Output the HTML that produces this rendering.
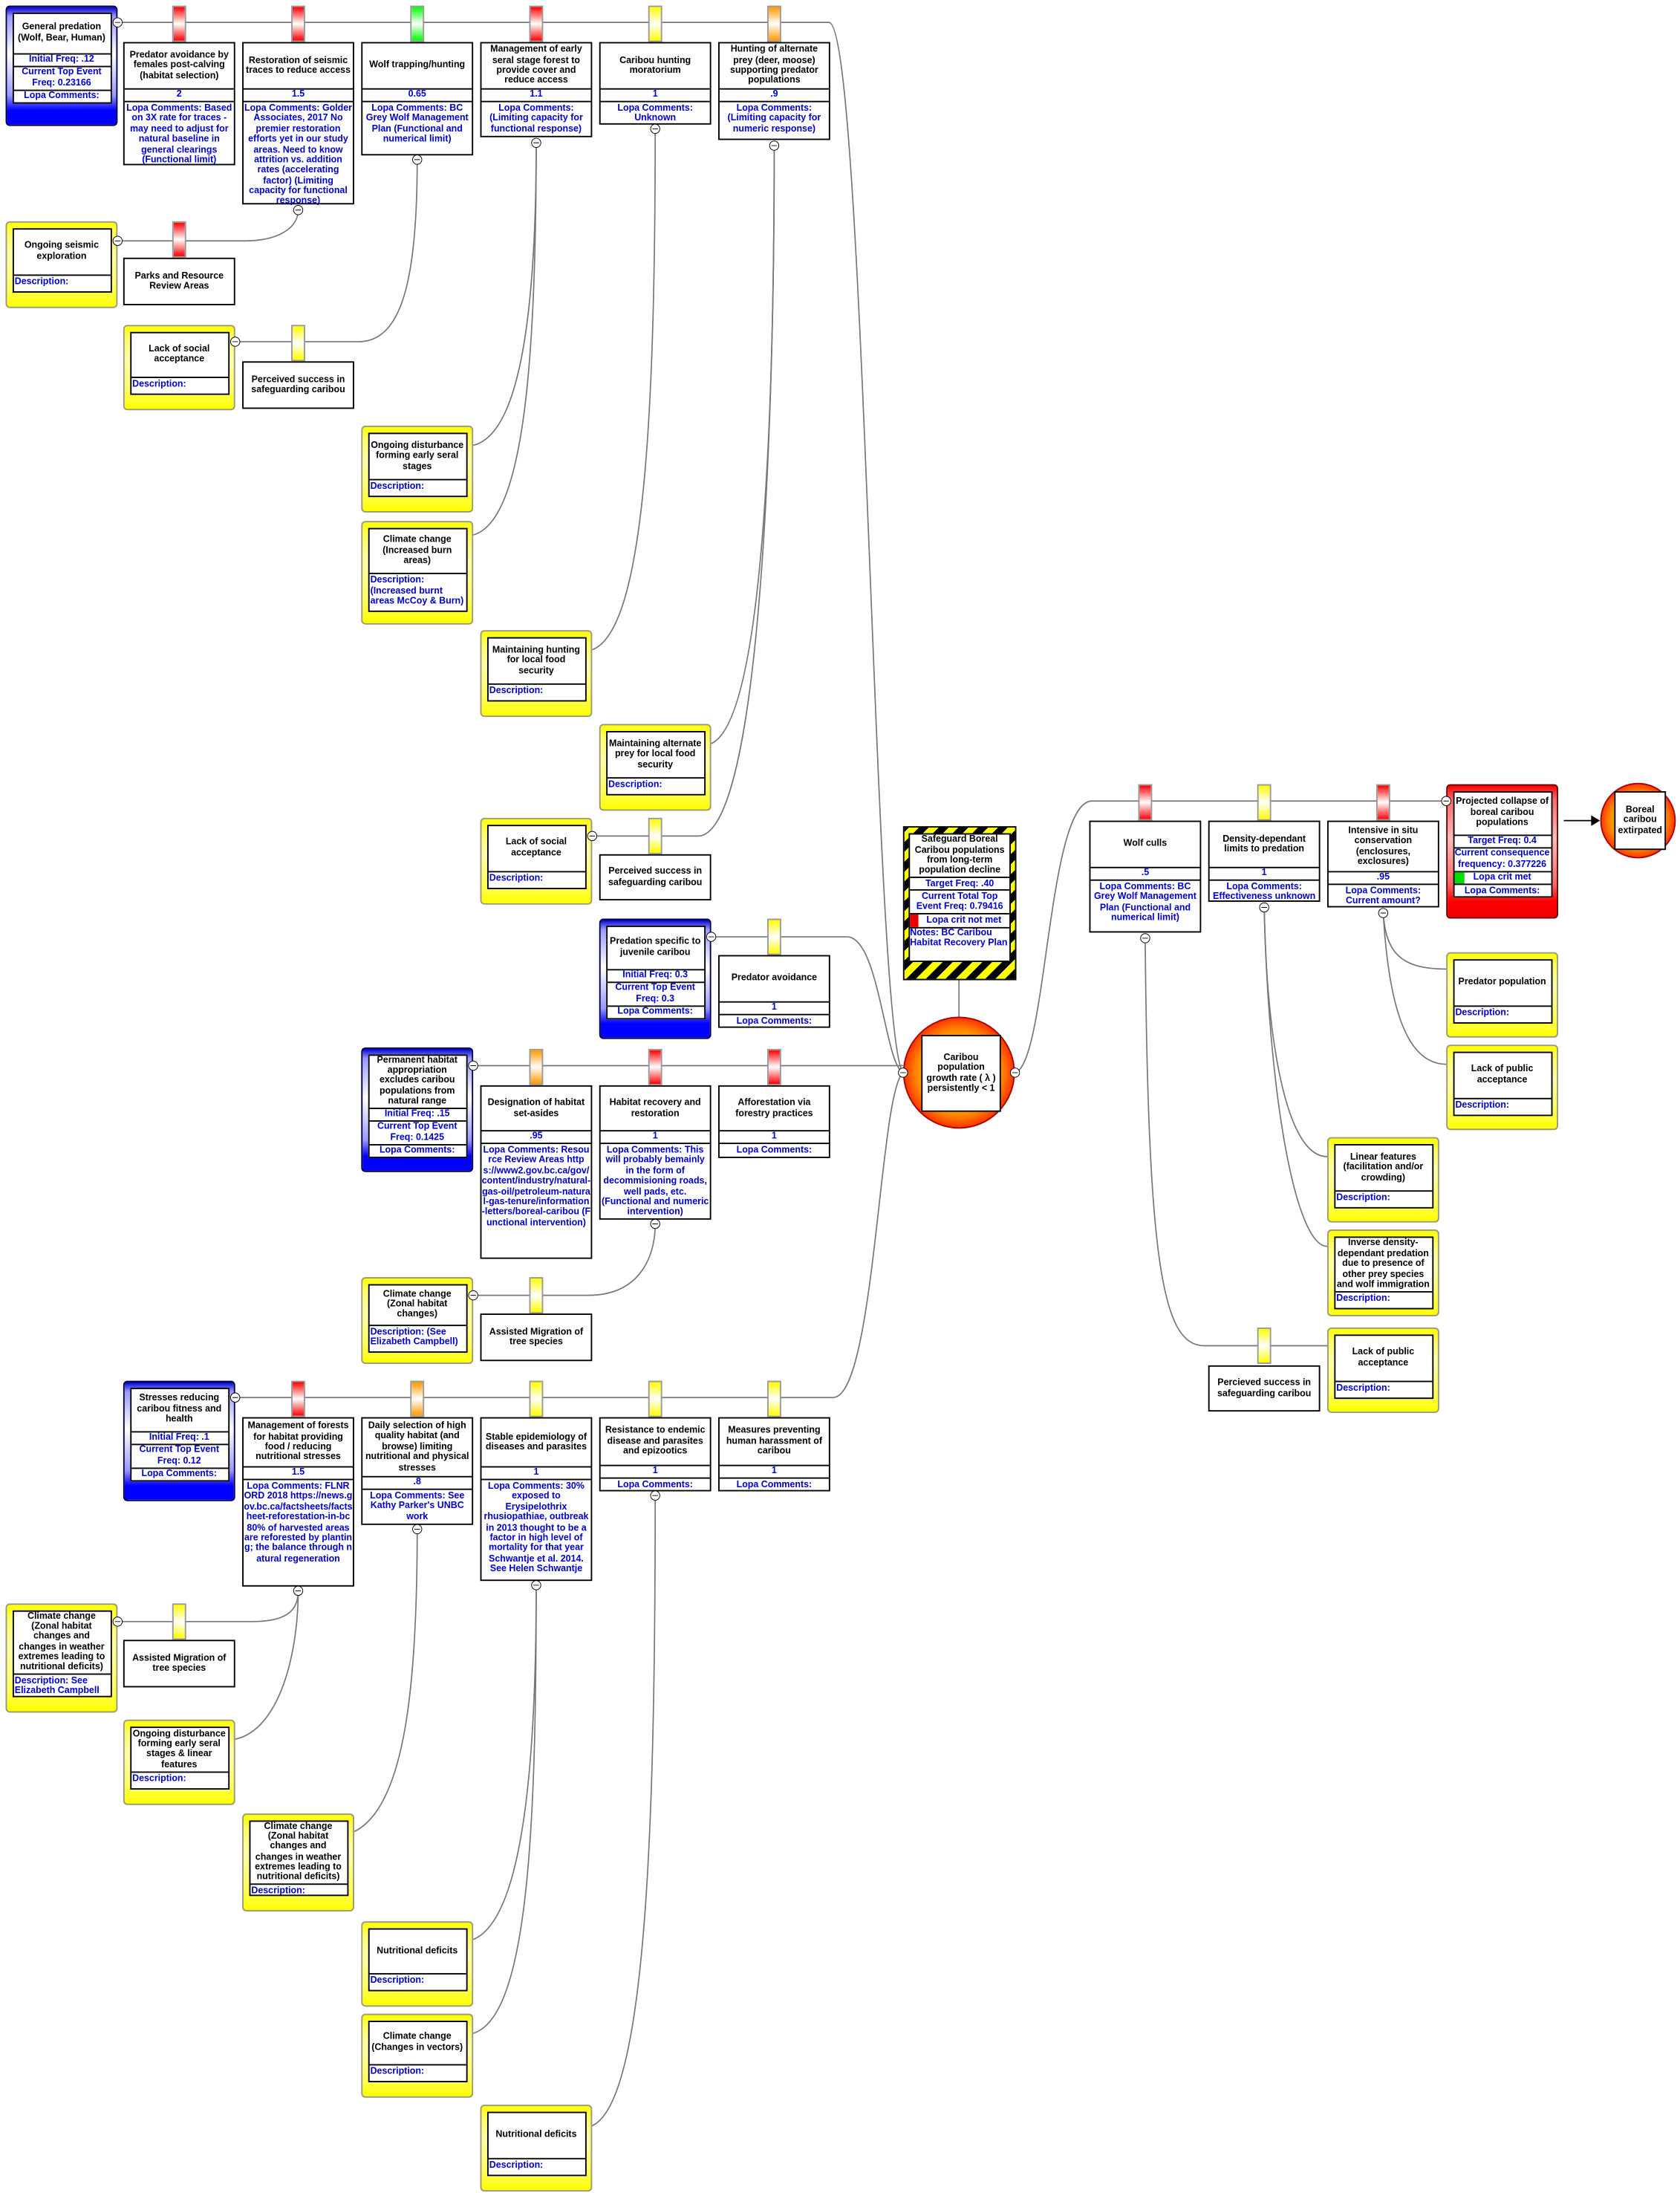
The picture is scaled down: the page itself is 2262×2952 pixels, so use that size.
<!DOCTYPE html>
<html><head><meta charset="utf-8"><style>
html,body{margin:0;padding:0;background:#fff;width:2262px;height:2952px;overflow:hidden}
#w{position:absolute;left:0;top:0;width:1200px;height:1566px;transform:scale(1.885);transform-origin:0 0;font-family:"Liberation Sans",Tahoma,sans-serif;font-weight:bold;font-size:6.6px;line-height:1.12}
svg{position:absolute;left:0;top:0}
.b{position:absolute;border:0.5px solid #000;background:#fff;box-sizing:border-box;display:flex;flex-direction:column}
.t{flex:none;display:flex;align-items:center;justify-content:center;text-align:center;color:#000;padding:0 1px}
.v{flex:none;height:8px;border-top:0.5px solid #000;border-bottom:0.5px solid #000;color:#00c;text-align:center;line-height:8px}
.c{flex:1;color:#00c;text-align:center;padding-top:1px}
.tab{position:absolute;width:10px;height:26px;box-sizing:border-box;border:0.5px solid #999}
.r{background:linear-gradient(#f00,#fff 50%,#f00)}
.y{background:linear-gradient(#ff0,#fff 50%,#ff0)}
.g{background:linear-gradient(#0f0,#fff 50%,#0f0)}
.o{background:linear-gradient(#f90,#fff 50%,#f90)}
.ty{position:absolute;box-sizing:border-box;border:0.6px solid #997;border-radius:3px;background:linear-gradient(#ff0,#ff6 15%,#ffa 40%,#ff6 75%,#ff0)}
.tb{position:absolute;box-sizing:border-box;border:0.6px solid #004;border-radius:3px;background:linear-gradient(#00c,#99f 8%,#fff 40%,#99f 75%,#00f 88%,#00f)}
.tr{position:absolute;box-sizing:border-box;border:0.6px solid #600;border-radius:3px;background:linear-gradient(#f00,#f66 10%,#fbb 40%,#f66 75%,#f00 88%,#e00)}
.in{position:absolute;left:3.5px;right:3.5px;top:3.5px;background:#fff;border:0.5px solid #000;display:flex;flex-direction:column}
.in .t{flex:1}
.d{flex:none;border-top:0.5px solid #000;color:#00c;padding:1px 1px 2px;text-align:left}
.rw{flex:none;border-top:0.5px solid #000;color:#00c;text-align:center;padding:0.5px 0}
</style></head><body><div id="w">
<svg width="1200" height="1566" viewBox="0 0 1200 1566" fill="none" stroke="#777" stroke-width="0.9">
<path d="M84,16 H592 C618,16 624,740 645,766"/>
<path d="M508,669 H605 C628,669 632,760 645,766"/>
<path d="M338,761 H645"/>
<path d="M168,998 H595 C625,998 628,780 645,766"/>
<path d="M725,766 C748,760 748,572 780,572 H1033"/>
<path d="M84,172 H175 C200,172 213,162 213,150"/>
<path d="M168,244 H256 C287,244 298,200 298,114"/>
<path d="M338,318 C372,310 383,220 383,102"/>
<path d="M338,382 C374,372 383,260 383,102"/>
<path d="M423,464 C460,450 468,300 468,92"/>
<path d="M508,531 C545,515 553,300 553,104"/>
<path d="M423,597 H500 C542,590 553,320 553,104"/>
<path d="M338,925 H420 C455,925 468,900 468,874"/>
<path d="M84,1158 H180 C205,1158 213,1150 213,1136"/>
<path d="M168,1242 C200,1235 213,1180 213,1136"/>
<path d="M253,1308 C290,1290 298,1200 298,1092"/>
<path d="M338,1385 C375,1370 383,1250 383,1132"/>
<path d="M338,1452 C378,1440 383,1300 383,1132"/>
<path d="M423,1518 C462,1500 468,1300 468,1068"/>
<path d="M988,652 C990,680 1000,692 1033,692"/>
<path d="M988,652 C992,720 1005,760 1033,760"/>
<path d="M903,648 C905,750 920,826 948,826"/>
<path d="M903,648 C906,780 925,890 948,890"/>
<path d="M818,670 C820,900 830,961 860,961 H948"/>
<path d="M685,700 V726"/>
<path d="M1117,586 H1138" stroke="#000"/>
<path d="M1137,583 L1142,586 L1137,589 Z" fill="#000" stroke="#000"/>
</svg>

<div class="tab r" style="left:123px;top:4px"></div>
<div class="tab r" style="left:208px;top:4px"></div>
<div class="tab g" style="left:293px;top:4px"></div>
<div class="tab r" style="left:378px;top:4px"></div>
<div class="tab y" style="left:463px;top:4px"></div>
<div class="tab o" style="left:548px;top:4px"></div>
<div class="tab r" style="left:123px;top:158px"></div>
<div class="tab y" style="left:208px;top:232px"></div>
<div class="tab y" style="left:463px;top:584px"></div>
<div class="tab y" style="left:548px;top:656px"></div>
<div class="tab o" style="left:378px;top:749px"></div>
<div class="tab r" style="left:463px;top:749px"></div>
<div class="tab r" style="left:548px;top:749px"></div>
<div class="tab y" style="left:378px;top:912px"></div>
<div class="tab r" style="left:208px;top:986px"></div>
<div class="tab o" style="left:293px;top:986px"></div>
<div class="tab y" style="left:378px;top:986px"></div>
<div class="tab y" style="left:463px;top:986px"></div>
<div class="tab y" style="left:548px;top:986px"></div>
<div class="tab y" style="left:123px;top:1145px"></div>
<div class="tab r" style="left:813px;top:560px"></div>
<div class="tab y" style="left:898px;top:560px"></div>
<div class="tab r" style="left:983px;top:560px"></div>
<div class="tab y" style="left:898px;top:948px"></div>

<div class="b" style="left:88px;top:30px;width:80px;height:88px"><div class="t" style="height:32px">Predator avoidance by females post-calving (habitat selection)</div><div class="v">2</div><div class="c">Lopa Comments: Based on 3X rate for traces - may need to adjust for natural baseline in general clearings (Functional limit)</div></div>
<div class="b" style="left:173px;top:30px;width:80px;height:116px"><div class="t" style="height:32px">Restoration of seismic traces to reduce access</div><div class="v">1.5</div><div class="c">Lopa Comments: Golder Associates, 2017 No premier restoration efforts yet in our study areas. Need to know attrition vs. addition rates (accelerating factor) (Limiting capacity for functional response)</div></div>
<div class="b" style="left:258px;top:30px;width:80px;height:81px"><div class="t" style="height:32px">Wolf trapping/hunting</div><div class="v">0.65</div><div class="c">Lopa Comments: BC Grey Wolf Management Plan (Functional and numerical limit)</div></div>
<div class="b" style="left:343px;top:30px;width:80px;height:68px"><div class="t" style="height:32px">Management of early seral stage forest to provide cover and reduce access</div><div class="v">1.1</div><div class="c">Lopa Comments: (Limiting capacity for functional response)</div></div>
<div class="b" style="left:428px;top:30px;width:80px;height:59px"><div class="t" style="height:32px">Caribou hunting moratorium</div><div class="v">1</div><div class="c">Lopa Comments: Unknown</div></div>
<div class="b" style="left:513px;top:30px;width:80px;height:70px"><div class="t" style="height:32px">Hunting of alternate prey (deer, moose) supporting predator populations</div><div class="v">.9</div><div class="c">Lopa Comments: (Limiting capacity for numeric response)</div></div>

<div class="b" style="left:88px;top:184px;width:80px;height:34px"><div class="t" style="flex:1">Parks and Resource Review Areas</div></div>
<div class="b" style="left:173px;top:258px;width:80px;height:34px"><div class="t" style="flex:1">Perceived success in safeguarding caribou</div></div>
<div class="b" style="left:428px;top:610px;width:80px;height:33px"><div class="t" style="flex:1">Perceived success in safeguarding caribou</div></div>
<div class="b" style="left:513px;top:682px;width:80px;height:52px"><div class="t" style="height:32px">Predator avoidance</div><div class="v">1</div><div class="c">Lopa Comments:</div></div>

<div class="b" style="left:343px;top:775px;width:80px;height:124px"><div class="t" style="height:31px">Designation of habitat set-asides</div><div class="v">.95</div><div class="c" style="word-break:break-all">Lopa Comments: Resource Review Areas https://www2.gov.bc.ca/gov/content/industry/natural-gas-oil/petroleum-natural-gas-tenure/information-letters/boreal-caribou (Functional intervention)</div></div>
<div class="b" style="left:428px;top:775px;width:80px;height:96px"><div class="t" style="height:31px">Habitat recovery and restoration</div><div class="v">1</div><div class="c">Lopa Comments: This will probably bemainly in the form of decommisioning roads, well pads, etc. (Functional and numeric intervention)</div></div>
<div class="b" style="left:513px;top:775px;width:80px;height:52px"><div class="t" style="height:31px">Afforestation via forestry practices</div><div class="v">1</div><div class="c">Lopa Comments:</div></div>
<div class="b" style="left:343px;top:938px;width:80px;height:34px"><div class="t" style="flex:1">Assisted Migration of tree species</div></div>

<div class="b" style="left:173px;top:1012px;width:80px;height:121px"><div class="t" style="height:34px">Management of forests for habitat providing food / reducing nutritional stresses</div><div class="v">1.5</div><div class="c" style="word-break:break-all">Lopa Comments: FLNRORD 2018 https://news.gov.bc.ca/factsheets/factsheet-reforestation-in-bc 80% of harvested areas are reforested by planting; the balance through natural regeneration</div></div>
<div class="b" style="left:258px;top:1012px;width:80px;height:77px"><div class="t" style="height:41px">Daily selection of high quality habitat (and browse) limiting nutritional and physical stresses</div><div class="v">.8</div><div class="c">Lopa Comments: See Kathy Parker's UNBC work</div></div>
<div class="b" style="left:343px;top:1012px;width:80px;height:117px"><div class="t" style="height:34px">Stable epidemiology of diseases and parasites</div><div class="v">1</div><div class="c">Lopa Comments: 30% exposed to Erysipelothrix rhusiopathiae, outbreak in 2013 thought to be a factor in high level of mortality for that year Schwantje et al. 2014. See Helen Schwantje</div></div>
<div class="b" style="left:428px;top:1012px;width:80px;height:53px"><div class="t" style="height:33px">Resistance to endemic disease and parasites and epizootics</div><div class="v">1</div><div class="c">Lopa Comments:</div></div>
<div class="b" style="left:513px;top:1012px;width:80px;height:53px"><div class="t" style="height:33px">Measures preventing human harassment of caribou</div><div class="v">1</div><div class="c">Lopa Comments:</div></div>
<div class="b" style="left:88px;top:1171px;width:80px;height:34px"><div class="t" style="flex:1">Assisted Migration of tree species</div></div>

<div class="b" style="left:778px;top:586px;width:80px;height:80px"><div class="t" style="height:32px">Wolf culls</div><div class="v">.5</div><div class="c">Lopa Comments: BC Grey Wolf Management Plan (Functional and numerical limit)</div></div>
<div class="b" style="left:863px;top:586px;width:80px;height:58px"><div class="t" style="height:32px">Density-dependant limits to predation</div><div class="v">1</div><div class="c">Lopa Comments: Effectiveness unknown</div></div>
<div class="b" style="left:948px;top:586px;width:80px;height:62px"><div class="t" style="height:35px">Intensive in situ conservation (enclosures, exclosures)</div><div class="v">.95</div><div class="c">Lopa Comments: Current amount?</div></div>
<div class="b" style="left:863px;top:975px;width:80px;height:33px"><div class="t" style="flex:1">Percieved success in safeguarding caribou</div></div>

<div class="tb" style="left:4px;top:4px;width:80px;height:86px"><div class="in"><div class="t" style="height:28px;flex:none">General predation (Wolf, Bear, Human)</div><div class="rw">Initial Freq: .12</div><div class="rw">Current Top Event Freq: 0.23166</div><div class="rw">Lopa Comments:</div></div></div>
<div class="tb" style="left:428px;top:656px;width:80px;height:86px"><div class="in"><div class="t" style="height:30px;flex:none">Predation specific to juvenile caribou</div><div class="rw">Initial Freq: 0.3</div><div class="rw">Current Top Event Freq: 0.3</div><div class="rw">Lopa Comments:</div></div></div>
<div class="tb" style="left:258px;top:748px;width:80px;height:89px"><div class="in"><div class="t" style="height:37px;flex:none">Permanent habitat appropriation excludes caribou populations from natural range</div><div class="rw">Initial Freq: .15</div><div class="rw">Current Top Event Freq: 0.1425</div><div class="rw">Lopa Comments:</div></div></div>
<div class="tb" style="left:88px;top:986px;width:80px;height:86px"><div class="in"><div class="t" style="height:30px;flex:none">Stresses reducing caribou fitness and health</div><div class="rw">Initial Freq: .1</div><div class="rw">Current Top Event Freq: 0.12</div><div class="rw">Lopa Comments:</div></div></div>

<div class="ty" style="left:4px;top:158px;width:80px;height:62px"><div class="in" style="height:44px"><div class="t">Ongoing seismic exploration</div><div class="d">Description:</div></div></div>
<div class="ty" style="left:88px;top:232px;width:80px;height:61px"><div class="in" style="height:43px"><div class="t">Lack of social acceptance</div><div class="d">Description:</div></div></div>
<div class="ty" style="left:258px;top:304px;width:80px;height:62px"><div class="in" style="height:44px"><div class="t">Ongoing disturbance forming early seral stages</div><div class="d">Description:</div></div></div>
<div class="ty" style="left:258px;top:372px;width:80px;height:74px"><div class="in" style="height:58px"><div class="t">Climate change (Increased burn areas)</div><div class="d">Description: (Increased burnt areas McCoy &amp; Burn)</div></div></div>
<div class="ty" style="left:343px;top:450px;width:80px;height:62px"><div class="in" style="height:44px"><div class="t">Maintaining hunting for local food security</div><div class="d">Description:</div></div></div>
<div class="ty" style="left:428px;top:517px;width:80px;height:62px"><div class="in" style="height:44px"><div class="t">Maintaining alternate prey for local food security</div><div class="d">Description:</div></div></div>
<div class="ty" style="left:343px;top:584px;width:80px;height:62px"><div class="in" style="height:44px"><div class="t">Lack of social acceptance</div><div class="d">Description:</div></div></div>
<div class="ty" style="left:258px;top:912px;width:80px;height:62px"><div class="in" style="height:47px"><div class="t">Climate change (Zonal habitat changes)</div><div class="d">Description: (See Elizabeth Campbell)</div></div></div>
<div class="ty" style="left:4px;top:1145px;width:80px;height:78px"><div class="in" style="height:60px"><div class="t">Climate change (Zonal habitat changes and changes in weather extremes leading to nutritional deficits)</div><div class="d">Description: See Elizabeth Campbell</div></div></div>
<div class="ty" style="left:88px;top:1228px;width:80px;height:61px"><div class="in" style="height:43px"><div class="t">Ongoing disturbance forming early seral stages &amp; linear features</div><div class="d">Description:</div></div></div>
<div class="ty" style="left:173px;top:1295px;width:80px;height:70px"><div class="in" style="height:52px"><div class="t">Climate change (Zonal habitat changes and changes in weather extremes leading to nutritional deficits)</div><div class="d">Description:</div></div></div>
<div class="ty" style="left:258px;top:1372px;width:80px;height:61px"><div class="in" style="height:43px"><div class="t">Nutritional deficits</div><div class="d">Description:</div></div></div>
<div class="ty" style="left:258px;top:1438px;width:80px;height:60px"><div class="in" style="height:42px"><div class="t">Climate change (Changes in vectors)</div><div class="d">Description:</div></div></div>
<div class="ty" style="left:343px;top:1503px;width:80px;height:62px"><div class="in" style="height:44px"><div class="t">Nutritional deficits</div><div class="d">Description:</div></div></div>
<div class="ty" style="left:1033px;top:680px;width:80px;height:61px"><div class="in" style="height:44px"><div class="t">Predator population</div><div class="d">Description:</div></div></div>
<div class="ty" style="left:1033px;top:746px;width:80px;height:61px"><div class="in" style="height:44px"><div class="t">Lack of public acceptance</div><div class="d">Description:</div></div></div>
<div class="ty" style="left:948px;top:812px;width:80px;height:61px"><div class="in" style="height:44px"><div class="t">Linear features (facilitation and/or crowding)</div><div class="d">Description:</div></div></div>
<div class="ty" style="left:948px;top:878px;width:80px;height:62px"><div class="in" style="height:50px"><div class="t">Inverse density-dependant predation due to presence of other prey species and wolf immigration</div><div class="d">Description:</div></div></div>
<div class="ty" style="left:948px;top:948px;width:80px;height:61px"><div class="in" style="height:44px"><div class="t">Lack of public acceptance</div><div class="d">Description:</div></div></div>

<div class="tr" style="left:1033px;top:560px;width:80px;height:96px"><div class="in"><div class="t" style="height:30px;flex:none">Projected collapse of boreal caribou populations</div><div class="rw">Target Freq: 0.4</div><div class="rw">Current consequence frequency: 0.377226</div><div class="rw" style="position:relative"><span style="position:absolute;left:0;top:0;bottom:0;width:7px;background:#0d0"></span>Lopa crit met</div><div class="rw">Lopa Comments:</div></div></div>
<div style="position:absolute;left:1143px;top:559px;width:54px;height:54px;border-radius:50%;box-sizing:border-box;border:0.6px solid #a00;background:radial-gradient(circle,#ffd000 25%,#ff8a00 55%,#ff1000 80%)"></div>
<div class="b" style="left:1153px;top:565px;width:37px;height:42px"><div class="t" style="flex:1">Boreal caribou extirpated</div></div>

<div style="position:absolute;left:645px;top:590px;width:81px;height:110px;box-sizing:border-box;border:1px solid #000;background:repeating-linear-gradient(-45deg,#000 0 5px,#ff0 5px 10px)">
<div style="position:absolute;left:3px;right:3px;top:4px;height:90px;background:#fff;border:0.5px solid #000;display:flex;flex-direction:column">
<div class="t" style="height:30px">Safeguard Boreal Caribou populations from long-term population decline</div>
<div class="rw">Target Freq: .40</div><div class="rw">Current Total Top Event Freq: 0.79416</div>
<div class="rw" style="position:relative;padding-left:6px"><span style="position:absolute;left:0;top:0;bottom:0;width:6px;background:#e00"></span>Lopa crit not met</div>
<div class="rw" style="text-align:left;flex:1">Notes: BC Caribou Habitat Recovery Plan</div></div></div>

<div style="position:absolute;left:645px;top:726px;width:80px;height:80px;border-radius:50%;box-sizing:border-box;border:0.6px solid #a00;background:radial-gradient(circle,#ffd000 25%,#ff8a00 55%,#ff1000 78%)"></div>
<div class="b" style="left:658px;top:739px;width:57px;height:55px"><div class="t" style="flex:1">Caribou population growth rate ( λ ) persistently &lt; 1</div></div>

<svg width="1200" height="1566" viewBox="0 0 1200 1566" stroke="#000" stroke-width="0.5" fill="#fff">
<g>
<circle cx="84" cy="16" r="3.3"/><circle cx="84" cy="172" r="3.3"/><circle cx="168" cy="244" r="3.3"/><circle cx="423" cy="597" r="3.3"/><circle cx="508" cy="669" r="3.3"/><circle cx="338" cy="761" r="3.3"/><circle cx="338" cy="925" r="3.3"/><circle cx="168" cy="998" r="3.3"/><circle cx="84" cy="1158" r="3.3"/><circle cx="645" cy="766" r="3.3"/><circle cx="725" cy="766" r="3.3"/><circle cx="1033" cy="572" r="3.3"/>
<circle cx="213" cy="150" r="3.3"/><circle cx="298" cy="114" r="3.3"/><circle cx="383" cy="102" r="3.3"/><circle cx="468" cy="92" r="3.3"/><circle cx="553" cy="104" r="3.3"/><circle cx="468" cy="874" r="3.3"/><circle cx="213" cy="1136" r="3.3"/><circle cx="298" cy="1092" r="3.3"/><circle cx="383" cy="1132" r="3.3"/><circle cx="468" cy="1068" r="3.3"/><circle cx="818" cy="670" r="3.3"/><circle cx="903" cy="648" r="3.3"/><circle cx="988" cy="652" r="3.3"/>
</g>
<path fill="none" d="M82,16h4M82,172h4M166,244h4M421,597h4M506,669h4M336,761h4M336,925h4M166,998h4M82,1158h4M643,766h4M723,766h4M1031,572h4M211,150h4M296,114h4M381,102h4M466,92h4M551,104h4M466,874h4M211,1136h4M296,1092h4M381,1132h4M466,1068h4M816,670h4M901,648h4M986,652h4"/>
</svg>
</div></body></html>
